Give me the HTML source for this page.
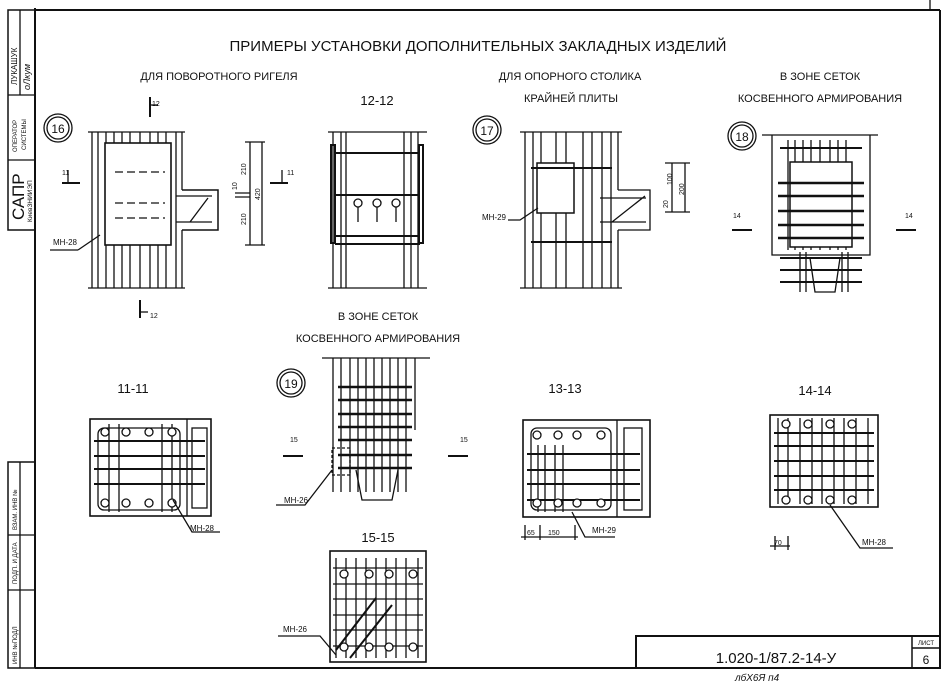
<!DOCTYPE html>
<html><head><meta charset="utf-8"><style>
html,body{margin:0;padding:0;background:#fff}
svg{display:block}
text{font-family:"Liberation Sans Narrow","Liberation Sans",sans-serif;fill:#111}
</style></head><body>
<svg width="949" height="682" viewBox="0 0 949 682" xmlns="http://www.w3.org/2000/svg" stroke="#111" fill="none" stroke-width="1.3">
<!-- frame -->
<line x1="35" y1="10" x2="940" y2="10" stroke-width="2"/>
<line x1="35" y1="8" x2="35" y2="668" stroke-width="2"/>
<line x1="940" y1="10" x2="940" y2="668" stroke-width="2"/>
<line x1="35" y1="668" x2="940" y2="668" stroke-width="2"/>
<line x1="930" y1="0" x2="930" y2="10"/>
<!-- left strip -->
<rect x="8" y="10" width="27" height="220" stroke-width="1.5"/>
<line x1="20" y1="10" x2="20" y2="95"/>
<line x1="8" y1="95" x2="35" y2="95"/>
<line x1="8" y1="160" x2="35" y2="160"/>
<rect x="8" y="462" width="27" height="206" stroke-width="1.5"/>
<line x1="8" y1="535" x2="35" y2="535"/>
<line x1="8" y1="590" x2="35" y2="590"/>
<line x1="20" y1="462" x2="20" y2="668"/>
<g stroke="none">
<text transform="translate(17,85) rotate(-90)" font-size="8">ЛУКАШУК</text>
<text transform="translate(30,90) rotate(-90)" font-size="9" font-style="italic">оЛкум</text>
<text transform="translate(17,152) rotate(-90)" font-size="6">ОПЕРАТОР</text>
<text transform="translate(26,150) rotate(-90)" font-size="6">СИСТЕМЫ</text>
<text transform="translate(24,220) rotate(-90)" font-size="17">САПР</text>
<text transform="translate(32,222) rotate(-90)" font-size="6.5">КиевЗНИИЭП</text>
<text transform="translate(17,530) rotate(-90)" font-size="6">ВЗАМ. ИНВ №</text>
<text transform="translate(17,584) rotate(-90)" font-size="6">ПОДП. И ДАТА</text>
<text transform="translate(17,664) rotate(-90)" font-size="6">ИНВ №ПОДЛ</text>
</g>
<!-- title block -->
<rect x="636" y="636" width="304" height="32" stroke-width="2"/>
<line x1="912" y1="636" x2="912" y2="668" stroke-width="1.5"/>
<line x1="912" y1="648" x2="940" y2="648" stroke-width="1.5"/>
<g stroke="none">
<text x="926" y="645" font-size="6" text-anchor="middle">ЛИСТ</text>
<text x="926" y="664" font-size="12" text-anchor="middle">6</text>
<text x="776" y="663" font-size="15" text-anchor="middle">1.020-1/87.2-14-У</text>
<text x="735" y="681" font-size="10" font-style="italic">лбХ6Я    п4</text>
<text x="478" y="51" font-size="15" text-anchor="middle">ПРИМЕРЫ УСТАНОВКИ ДОПОЛНИТЕЛЬНЫХ ЗАКЛАДНЫХ ИЗДЕЛИЙ</text>
<text x="219" y="80" font-size="11" text-anchor="middle">ДЛЯ ПОВОРОТНОГО РИГЕЛЯ</text>
<text x="570" y="80" font-size="11" text-anchor="middle">ДЛЯ ОПОРНОГО СТОЛИКА</text>
<text x="571" y="102" font-size="11" text-anchor="middle">КРАЙНЕЙ ПЛИТЫ</text>
<text x="820" y="80" font-size="11" text-anchor="middle">В ЗОНЕ СЕТОК</text>
<text x="820" y="102" font-size="11" text-anchor="middle">КОСВЕННОГО АРМИРОВАНИЯ</text>
<text x="377" y="105" font-size="13" text-anchor="middle">12-12</text>
<text x="378" y="320" font-size="11" text-anchor="middle">В ЗОНЕ СЕТОК</text>
<text x="378" y="342" font-size="11" text-anchor="middle">КОСВЕННОГО АРМИРОВАНИЯ</text>
<text x="133" y="393" font-size="13" text-anchor="middle">11-11</text>
<text x="565" y="393" font-size="13" text-anchor="middle">13-13</text>
<text x="815" y="395" font-size="13" text-anchor="middle">14-14</text>
<text x="378" y="542" font-size="13" text-anchor="middle">15-15</text>
<text x="53" y="245" font-size="8">МН-28</text>
<text x="482" y="220" font-size="8">МН-29</text>
<text x="284" y="503" font-size="8">МН-26</text>
<text x="190" y="531" font-size="8">МН-28</text>
<text x="592" y="533" font-size="8">МН-29</text>
<text x="862" y="545" font-size="8">МН-28</text>
<text x="283" y="632" font-size="8">МН-26</text>
<text x="527" y="535" font-size="7">65</text><text x="548" y="535" font-size="7">150</text>
<text x="774" y="545" font-size="7">70</text>
</g>
<!-- circles -->
<g stroke-width="1.3">
<circle cx="58" cy="128" r="14"/><circle cx="58" cy="128" r="11"/>
<circle cx="487" cy="130" r="14"/><circle cx="487" cy="130" r="11"/>
<circle cx="742" cy="136" r="14"/><circle cx="742" cy="136" r="11"/>
<circle cx="291" cy="383" r="14"/><circle cx="291" cy="383" r="11"/>
</g>
<g stroke="none" font-size="12">
<text x="58" y="133" text-anchor="middle">16</text><text x="487" y="135" text-anchor="middle">17</text>
<text x="742" y="141" text-anchor="middle">18</text><text x="291" y="388" text-anchor="middle">19</text>
</g>
<!-- drawing 16 -->
<g>
<line x1="88" y1="132" x2="185" y2="132"/><line x1="88" y1="288" x2="185" y2="288"/>
<path d="M92 132V288M98 132V288M106 132V288M114 132V288M122 132V288M130 132V288M140 132V288M150 132V288M158 132V288M166 132V288M176 132V288M182 132V190M182 230V288"/>
<rect x="105" y="143" width="66" height="102" fill="#fff" stroke-width="1.6"/>
<path d="M182 190H218V230H182" stroke-width="1.5"/>
<path d="M176 196H212M176 222H212M190 222L208 198" />
<path d="M115 172h50M115 203h50M115 218h50" stroke-dasharray="8 4"/>
<line x1="150" y1="117" x2="150" y2="97" stroke-width="2"/><line x1="150" y1="105" x2="158" y2="105"/>
<line x1="140" y1="300" x2="140" y2="318" stroke-width="2"/><line x1="140" y1="312" x2="148" y2="312"/>
<line x1="62" y1="183" x2="80" y2="183" stroke-width="2"/><line x1="68" y1="170" x2="68" y2="183"/>
<line x1="270" y1="183" x2="288" y2="183" stroke-width="2"/><line x1="282" y1="170" x2="282" y2="183"/>
<path d="M245 142H265M245 245H265M250 142V245M262 142V245M235 193H250M235 197H250"/>
<path d="M78 250L100 235"/><line x1="50" y1="250" x2="78" y2="250"/>
</g>
<g stroke="none" font-size="7"><text transform="translate(246,175) rotate(-90)">210</text><text transform="translate(246,225) rotate(-90)">210</text><text transform="translate(260,200) rotate(-90)">420</text><text transform="translate(237,190) rotate(-90)">10</text><text x="152" y="106">12</text><text x="150" y="318">12</text><text x="62" y="175">11</text><text x="287" y="175">11</text></g>
<!-- 12-12 -->
<g>
<line x1="328" y1="132" x2="427" y2="132"/><line x1="328" y1="288" x2="427" y2="288"/>
<path d="M333 132V288M341 132V288M346 132V288M404 132V288M411 132V288M418 132V288"/>
<rect x="331" y="145" width="4" height="98" stroke-width="2"/><rect x="419" y="145" width="4" height="98" stroke-width="2"/>
<path d="M335 153H420M335 195H420M335 236H420M335 244H420" stroke-width="2"/>
<circle cx="358" cy="203" r="4"/><circle cx="377" cy="203" r="4"/><circle cx="396" cy="203" r="4"/>
<path d="M358 207V222M377 207V222M396 207V222"/>
</g>
<!-- 17 -->
<g>
<line x1="520" y1="132" x2="622" y2="132"/><line x1="520" y1="288" x2="622" y2="288"/>
<path d="M525 132V288M533 132V288M541 132V288M556 132V288M566 132V288M583 132V288M592 132V288M602 132V288M611 132V288M618 132V190M618 230V288"/>
<rect x="537" y="163" width="37" height="50" fill="#fff" stroke-width="1.5"/>
<path d="M531 168H612M531 242H612" stroke-width="2"/>
<path d="M618 190H650V230H618M600 198H646M600 222H646M612 222L645 196"/>
<path d="M508 220H520L538 208"/>
<path d="M665 163H690M665 212H690M672 163V212M685 163V212"/>
</g>
<g stroke="none" font-size="7"><text transform="translate(672,185) rotate(-90)">100</text><text transform="translate(684,195) rotate(-90)">200</text><text transform="translate(668,208) rotate(-90)">20</text><text x="733" y="218">14</text><text x="905" y="218">14</text><text x="290" y="442">15</text><text x="460" y="442">15</text></g>
<!-- 18 -->
<g>
<line x1="762" y1="135" x2="878" y2="135"/>
<path d="M772 135V255H870V135"/>
<path d="M780 148H862M780 258H862M780 270H862M780 282H862" stroke-width="2"/>
<path d="M788 140V250M795 140V250M803 140V250M811 140V250M820 140V250M830 140V250M838 140V250M846 140V250"/>
<rect x="790" y="162" width="62" height="85" fill="#fff" stroke-width="1.5"/>
<path d="M778 183H864M778 196H864M778 211H864M778 225H864M778 238H864" stroke-width="2.5"/>
<path d="M800 252V292M806 252V292M842 252V292M848 252V292M810 258L815 292H835L840 258" />
<line x1="732" y1="230" x2="752" y2="230" stroke-width="2"/><line x1="896" y1="230" x2="916" y2="230" stroke-width="2"/>
</g>
<!-- 11-11 -->
<g>
<rect x="90" y="419" width="121" height="97" stroke-width="1.6"/>
<line x1="187" y1="419" x2="187" y2="516"/>
<rect x="192" y="428" width="15" height="80"/>
<rect x="98" y="428" width="82" height="82" rx="6"/>
<path d="M94 441H205M94 456H205M94 469H205M94 484H205" stroke-width="2"/>
<path d="M109 424V512M119 424V512M162 424V512M172 424V512"/>
<g fill="#fff"><circle cx="105" cy="432" r="4"/><circle cx="126" cy="432" r="4"/><circle cx="149" cy="432" r="4"/><circle cx="172" cy="432" r="4"/>
<circle cx="105" cy="503" r="4"/><circle cx="126" cy="503" r="4"/><circle cx="149" cy="503" r="4"/><circle cx="172" cy="503" r="4"/></g>
<path d="M173 500L192 532H220"/>
</g>
<!-- 19 -->
<g>
<line x1="322" y1="358" x2="430" y2="358"/>
<path d="M333 358V492M341 358V492M350 358V492M358 358V492M366 358V492M374 358V492M382 358V492M390 358V492M398 358V492M406 358V492M415 358V430"/>
<path d="M338 387H412M338 400H412M338 414H412M338 427H412M338 440H412M338 455H412M338 468H412" stroke-width="2.5"/>
<rect x="332" y="448" width="18" height="27" stroke-dasharray="3 2"/>
<path d="M356 470L362 500H392L398 470"/>
<line x1="283" y1="456" x2="303" y2="456" stroke-width="2"/><line x1="448" y1="456" x2="468" y2="456" stroke-width="2"/>
<path d="M276 505H305L332 470"/>
</g>
<!-- 13-13 -->
<g>
<rect x="523" y="420" width="127" height="97" stroke-width="1.6"/>
<line x1="617" y1="420" x2="617" y2="517"/><rect x="624" y="428" width="18" height="82"/>
<rect x="531" y="428" width="80" height="82" rx="6"/>
<path d="M527 454H640M527 470H640M527 484H640M527 500H640" stroke-width="2"/>
<path d="M538 445V512M545 445V512M555 445V512M563 445V512"/>
<g fill="#fff"><circle cx="537" cy="435" r="4"/><circle cx="558" cy="435" r="4"/><circle cx="577" cy="435" r="4"/><circle cx="601" cy="435" r="4"/>
<circle cx="537" cy="503" r="4"/><circle cx="558" cy="503" r="4"/><circle cx="577" cy="503" r="4"/><circle cx="601" cy="503" r="4"/></g>
<path d="M521 537H578M525 525V540M540 525V540M575 525V540M572 512L585 537H615"/>
</g>
<!-- 14-14 -->
<g>
<rect x="770" y="415" width="108" height="92" stroke-width="1.6"/>
<path d="M774 433H874M774 446H874M774 461H874M774 476H874M774 490H874" stroke-width="2"/>
<path d="M778 418V504M788 418V504M800 418V504M812 418V504M822 418V504M834 418V504M844 418V504M856 418V504M868 418V504"/>
<g fill="#fff"><circle cx="786" cy="424" r="4"/><circle cx="808" cy="424" r="4"/><circle cx="830" cy="424" r="4"/><circle cx="852" cy="424" r="4"/>
<circle cx="786" cy="500" r="4"/><circle cx="808" cy="500" r="4"/><circle cx="830" cy="500" r="4"/><circle cx="852" cy="500" r="4"/></g>
<path d="M770 546H790M775 536V550M788 536V550M830 505L860 548H893"/>
</g>
<!-- 15-15 -->
<g>
<rect x="330" y="551" width="96" height="111" stroke-width="1.6"/>
<path d="M336 558V658M346 558V658M356 558V658M366 558V658M376 558V658M386 558V658M396 558V658M406 558V658M418 558V658"/>
<path d="M333 568H423M333 584H423M333 599H423M333 615H423M333 630H423M333 646H423"/>
<g fill="#fff"><circle cx="344" cy="574" r="4"/><circle cx="369" cy="574" r="4"/><circle cx="389" cy="574" r="4"/><circle cx="413" cy="574" r="4"/>
<circle cx="344" cy="647" r="4"/><circle cx="369" cy="647" r="4"/><circle cx="389" cy="647" r="4"/><circle cx="413" cy="647" r="4"/></g>
<path d="M336 650L376 598M350 658L392 605" stroke-width="2"/>
<path d="M278 636H320L336 655"/>
</g>
</svg>
</body></html>
